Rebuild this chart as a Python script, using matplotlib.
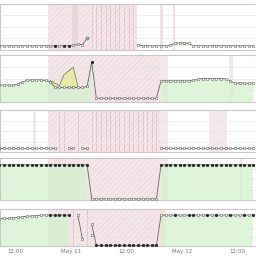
# Five stacked status panels over ~2.5 days, hourly samples
import numpy as np
import pandas as pd
import matplotlib
matplotlib.use('Agg')
import matplotlib.pyplot as plt

nan = np.nan

# Data (hourly, starting 2024-05-10 08:30)
base = pd.Timestamp('2024-05-10')
times = pd.date_range('2024-05-10 08:30', periods=56, freq='h')

p1_vals = [0, 0, 0, 0, 0, 0, 0, 0, 0, 0, 0, 0, 0, 0, 0,
           0, 0.01, 0.035, 0.03, 0.18,
           nan, nan, nan, nan, nan, nan, nan, nan, nan, nan,
           0.03, 0, 0, 0, 0, 0, 0, 0.01, 0.06, 0.07,
           0.07, 0.06, 0, 0, 0, 0, 0, 0, 0, 0, 0, 0, 0, 0, 0, 0]
p1_flag = [0] * 12 + [1, 0, 1, 1, 0, 0, 0, 2] + [0] * 36

p2_vals = [0.36, 0.36, 0.36, 0.36, 0.38, 0.43, 0.46, 0.47, 0.47, 0.47,
           0.46, 0.43, 0.32, 0.31, 0.31, 0.31, 0.31, 0.31, 0.31, 0.33,
           0.85, 0.08, 0.08, 0.08, 0.08, 0.08, 0.08, 0.08, 0.08, 0.08,
           0.08, 0.08, 0.08, 0.08, 0.08, 0.45, 0.45, 0.45, 0.45, 0.45,
           0.45, 0.45, 0.46, 0.48, 0.50, 0.50, 0.50, 0.50, 0.50, 0.49,
           0.45, 0.40, 0.40, 0.40, 0.40, 0.40]
p2_upper = [nan] * 11 + [0.46, 0.40, 0.35, 0.58, 0.66, 0.74, 0.33] + [nan] * 38
p2_flag = [0] * 20 + [1] + [0] * 35

p3_vals = [0] * 13 + [nan, nan, 0, 0, nan, 0, 0] + [nan] * 15 + [0] * 21
p3_flag = [0] * 56

p4_vals = [1] * 20 + [0] * 15 + [1] * 21
p4_flag = [1] * 20 + [0] * 15 + [1] * 21

p5_vals = [0.88, 0.89, 0.90, 0.91, 0.92, 0.94, 0.96, 0.97, 0.98,
           1, 1, 1, 1, 1, 1, 1, nan, 1, 0.2, nan, 0.7] + [0] * 14 + [1] * 21
p5_alt = [nan] * 20 + [0.35] + [nan] * 35
p5_flag = ([0] * 11 + [1] * 5 + [0] * 5 + [1] * 14
           + [0, 0, 0, 1, 0, 0, 1, 1, 0, 0, 1, 0, 1, 0, 0, 1, 0, 0, 1, 0, 1])

# alert windows, hours from May 10 00:00
p1_hatch = [(19.0, 38.3)]
p1_dark = [(24.2, 25.5)]
p1_light = [(43.2, 43.9), (46.0, 46.6)]
p2_hatch = [(19.0, 43.2)]
p2_light = [(43.2, 45.0), (58.3, 59.0)]
p3_hatch = [(19.0, 43.2)]
p3_light = [(15.8, 16.5), (43.2, 45.0), (53.8, 57.7)]
p4_hatch = [(19.0, 43.2)]
p4_light = [(43.2, 45.0), (60.5, 61.0)]
p5_hatch = [(19.0, 42.8)]
p5_peach = [(42.8, 44.6)]

tick_hours = [12, 24, 36, 48, 60]
tick_labels = ['12:00', 'May 11', '12:00', 'May 12', '12:00']

LINE = '#666666'
GREEN = '#d2f3cb'
PINK = '#f4e6e9'
plt.rcParams['hatch.linewidth'] = 0.3


def hrs(h):
    return base + pd.Timedelta(hours=h)


def shade(ax, spans, color, hatch=None, alpha=1.0):
    for a, b in spans:
        ax.axvspan(hrs(a), hrs(b), facecolor=color, edgecolor='#e9cdd2',
                   hatch=hatch, lw=0, alpha=alpha, zorder=0)


def gaps(ax, vals):
    v = np.array(vals, dtype=float)
    for t in times[np.isnan(v)]:
        ax.axvline(t, color='#c9828f', lw=0.6, ls=(0, (0.8, 1.6)), zorder=1)


def series(ax, vals, flag, color=LINE):
    v = np.array(vals, dtype=float)
    f = np.array(flag)
    ax.plot(times, v, color=color, lw=0.6, zorder=3)
    ax.plot(times[f == 0], v[f == 0], 'o', ms=1.9, mfc='white', mec='#555555',
            mew=0.35, zorder=4)
    ax.plot(times[f == 1], v[f == 1], 'o', ms=1.9, mfc='#222222', mec='#222222',
            mew=0.35, zorder=4)
    ax.plot(times[f == 2], v[f == 2], 'o', ms=2.2, mfc='#7fc6a4', mec='#555555',
            mew=0.35, zorder=4)


def green(ax, vals, ybot, where):
    v = np.array(vals, dtype=float)
    ax.fill_between(times, ybot, v, where=where, facecolor=GREEN, alpha=0.75,
                    lw=0, zorder=2)


fig = plt.figure(figsize=(2.56, 2.56), dpi=100)
fig.patch.set_facecolor('white')
bounds = [(4, 50), (55, 102), (110, 152), (158, 200), (209, 246)]
ylims = [(-0.1, 1.0), (0, 1.0), (-0.1, 1.0), (-0.03, 1.2), (-0.02, 1.2)]
axes = []
for (top, bot), yl in zip(bounds, ylims):
    ax = fig.add_axes([0, 1 - bot / 256, 1, (bot - top) / 256])
    ax.set_ylim(*yl)
    ax.set_xlim(hrs(8.65), hrs(64.05))
    lo, hi = yl
    ax.set_yticks(np.linspace(lo, hi, 5)[1:-1])
    ax.grid(axis='y', color='#e4e4e4', lw=0.5, zorder=1)
    ax.set_axisbelow(False)
    for s in ax.spines.values():
        s.set_color('#c8c8c8')
        s.set_linewidth(0.8)
    ax.tick_params(length=0, labelleft=False, labelbottom=False)
    axes.append(ax)

k = np.arange(len(times))

# panel 1
ax = axes[0]
shade(ax, p1_hatch, PINK, hatch='//////')
shade(ax, p1_dark, '#ecd6da')
shade(ax, p1_light, '#f2e2e5')
gaps(ax, p1_vals)
green(ax, p1_vals, 0, (k >= 37) & (k <= 42))
series(ax, p1_vals, p1_flag)

# panel 2
ax = axes[1]
shade(ax, p2_hatch, PINK, hatch='//////')
shade(ax, p2_light, '#f4e8ea')
green(ax, p2_vals, 0, (k <= 20) | (k >= 35))
up = np.array(p2_upper, dtype=float)
mn = np.array(p2_vals, dtype=float)
ax.fill_between(times, mn, up, where=up > mn, interpolate=True,
                facecolor='#e6eb9c', alpha=0.85, lw=0, zorder=2)
ax.plot(times, up, color='#7d8a55', lw=0.6, zorder=3)
series(ax, p2_vals, p2_flag)

# panel 3
ax = axes[2]
shade(ax, p3_hatch, PINK, hatch='//////')
shade(ax, p3_light, '#f4e8ea')
gaps(ax, p3_vals)
series(ax, p3_vals, p3_flag)

# panel 4
ax = axes[3]
shade(ax, p4_hatch, PINK, hatch='//////')
shade(ax, p4_light, '#f2e2e5', alpha=0.8)
green(ax, p4_vals, -0.03, (k <= 19) | (k >= 35))
series(ax, p4_vals, p4_flag)

# panel 5
ax = axes[4]
shade(ax, p5_hatch, PINK, hatch='//////')
green(ax, p5_vals, -0.02, (k <= 15) | (k >= 35))
shade(ax, p5_peach, '#f6e0d0', alpha=0.9)
gaps(ax, p5_vals)
series(ax, p5_vals, p5_flag)
alt = np.array(p5_alt, dtype=float)
ax.plot(times, alt, 'o', ms=1.9, mfc='white', mec='#555555', mew=0.35, zorder=4)

ax.set_xticks([hrs(h) for h in tick_hours])
ax.set_xticklabels(tick_labels)
ax.tick_params(labelbottom=True, labelsize=4, labelcolor='#707070', pad=2)

fig.savefig('out.png', dpi=100)
